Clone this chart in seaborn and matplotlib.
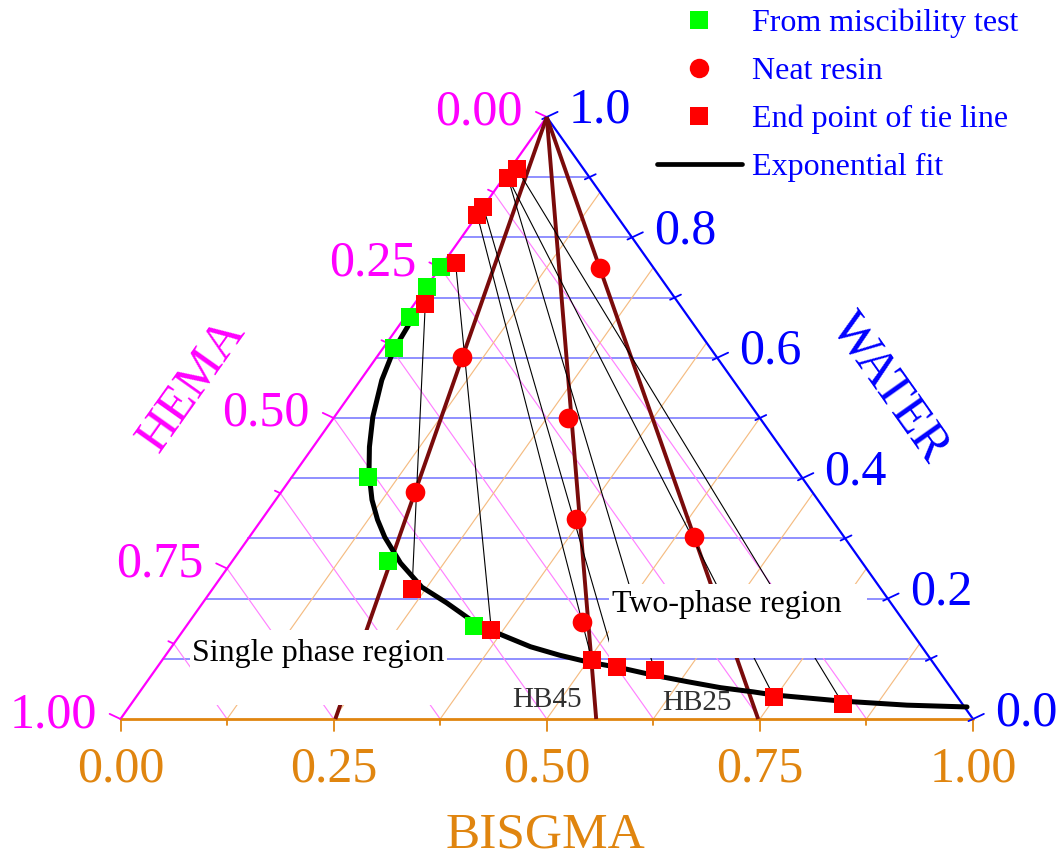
import numpy as np
import pandas as pd
import matplotlib
matplotlib.use("Agg")
import matplotlib.pyplot as plt
import matplotlib.transforms as mtransforms
import seaborn as sns
from matplotlib.lines import Line2D
from matplotlib.patches import Rectangle

sns.set_theme(style="white")
plt.rcParams['font.family'] = ['Liberation Serif', 'DejaVu Serif']

# ---- compositions (mass fractions); HEMA = 1 - BISGMA - WATER ----
misc_bisgma = [0.000, 0.000, 0.006, 0.013, 0.089, 0.183, 0.337]
misc_water = [0.751, 0.718, 0.668, 0.616, 0.402, 0.262, 0.155]

resin_bisgma = [0.188, 0.100, 0.275, 0.157, 0.368, 0.522, 0.461]
resin_water = [0.749, 0.601, 0.500, 0.377, 0.332, 0.302, 0.161]

# tie lines: water-rich end and resin-rich end
tie_top_bisgma = [0.008, 0.005, 0.005, 0.000, 0.000, 0.014, 0.013]
tie_top_water = [0.914, 0.899, 0.899, 0.851, 0.837, 0.758, 0.689]
tie_bot_bisgma = [0.835, 0.748, 0.586, 0.539, 0.504, 0.361, 0.234]
tie_bot_water = [0.025, 0.037, 0.081, 0.086, 0.098, 0.148, 0.216]

# binodal curve (exponential fit)
fit_bisgma = [0.008, 0.011, 0.014, 0.025, 0.045, 0.066, 0.087, 0.113, 0.136,
              0.159, 0.199, 0.244, 0.286, 0.328, 0.370, 0.421, 0.462, 0.500,
              0.544, 0.588, 0.634, 0.678, 0.720, 0.746, 0.829, 0.911, 0.983]
fit_water = [0.676, 0.651, 0.613, 0.563, 0.502, 0.452, 0.409, 0.364, 0.331,
             0.302, 0.259, 0.219, 0.193, 0.165, 0.143, 0.120, 0.106, 0.095,
             0.085, 0.073, 0.062, 0.052, 0.045, 0.040, 0.030, 0.023, 0.020]

# water dilution lines of the neat resins (BISGMA fraction at zero water)
dil_bisgma = [0.252, 0.558, 0.748]
dil_labels = ['HB45', 'HB25']

hema_ticks = [0.0, 0.125, 0.25, 0.375, 0.5, 0.625, 0.75, 0.875, 1.0]
bisgma_ticks = [0.0, 0.125, 0.25, 0.375, 0.5, 0.625, 0.75, 0.875, 1.0]
water_ticks = [0.0, 0.1, 0.2, 0.3, 0.4, 0.5, 0.6, 0.7, 0.8, 0.9, 1.0]
hema_labels = {0.0: '0.00', 0.25: '0.25', 0.5: '0.50', 0.75: '0.75', 1.0: '1.00'}
bisgma_labels = {0.0: '0.00', 0.25: '0.25', 0.5: '0.50', 0.75: '0.75', 1.0: '1.00'}
water_labels = {0.0: '0.0', 0.2: '0.2', 0.4: '0.4', 0.6: '0.6', 0.8: '0.8', 1.0: '1.0'}

PINK = '#ff00ff'
BLUE = '#0000ff'
ORANGE = '#e0850f'
BROWN = '#7a0b0b'


def to_xy(b, w):
    b = np.asarray(b, dtype=float)
    w = np.asarray(w, dtype=float)
    return b + w / 2.0, w


W_PX, H_PX = 1062, 857
fig = plt.figure(figsize=(W_PX / 100, H_PX / 100), dpi=100)
fig.patch.set_facecolor('white')
# triangle: base from x=120.5 to 973 px, bottom at y=719 px, apex 602 px higher
ax = fig.add_axes([120.5 / W_PX, (H_PX - 719) / H_PX, 852.5 / W_PX, 602 / H_PX])
ax.set_xlim(0, 1)
ax.set_ylim(0, 1)
ax.axis('off')

SX, SY = 852.5, 602.0  # pixels per data unit


def px_off(dx, dy):
    return mtransforms.offset_copy(ax.transData, fig=fig, x=dx, y=dy, units='dots')


# ---- grid ----
for w in water_ticks[1:-1]:
    x0, y0 = to_xy(0, w)
    x1, y1 = to_xy(1 - w, w)
    ax.plot([x0, x1], [y0, y1], color='#8f8fff', lw=1.4, zorder=1)
for h in hema_ticks[1:-1]:
    x0, y0 = to_xy(0, 1 - h)
    x1, y1 = to_xy(1 - h, 0)
    ax.plot([x0, x1], [y0, y1], color='#ff80ff', lw=0.85, zorder=1)
for b in bisgma_ticks[1:-1]:
    x0, y0 = to_xy(b, 0)
    x1, y1 = to_xy(b, 1 - b)
    ax.plot([x0, x1], [y0, y1], color='#f5bc82', lw=0.85, zorder=1)

# ---- triangle edges ----
ax.plot(*to_xy([0, 0], [0, 1]), color=PINK, lw=1.6, zorder=2, clip_on=False)
ax.plot(*to_xy([0, 1], [1, 0]), color=BLUE, lw=1.6, zorder=2, clip_on=False)
ax.plot(*to_xy([0, 1], [0, 0]), color=ORANGE, lw=2.0, zorder=2, clip_on=False)

# ---- ticks (perpendicular to edges) ----
ux, uy = 0.905, 0.426
for b in bisgma_ticks:
    L = 12 if b in bisgma_labels else 6
    x, y = to_xy(b, 0)
    ax.plot([x, x], [y, y - L / SY], color=ORANGE, lw=1.3, clip_on=False, zorder=2)
    if b in bisgma_labels:
        ax.text(x, y, bisgma_labels[b], transform=px_off(0, -63), ha='center',
                va='baseline', fontsize=36, color=ORANGE)
for h in hema_ticks:
    L = 12 if h in hema_labels else 6
    x, y = to_xy(0, 1 - h)
    ax.plot([x, x - ux * L / SX], [y, y + uy * L / SY], color=PINK, lw=1.3,
            clip_on=False, zorder=2)
    if h in hema_labels:
        ax.text(x, y, hema_labels[h], transform=px_off(-24, -8), ha='right',
                va='baseline', fontsize=36, color=PINK)
for w in water_ticks:
    L = 12 if w in water_labels else 7
    x, y = to_xy(1 - w, w)
    ax.plot([x - ux * 5 / SX, x + ux * L / SX], [y - uy * 5 / SY, y + uy * L / SY],
            color=BLUE, lw=1.3, clip_on=False, zorder=2)
    if w in water_labels:
        ax.text(x, y, water_labels[w], transform=px_off(22, -6), ha='left',
                va='baseline', fontsize=36, color=BLUE)

# ---- axis titles ----
fig.text(545 / W_PX, (H_PX - 848) / H_PX, 'BISGMA', ha='center', va='baseline',
         fontsize=37, color=ORANGE)
fig.text(192 / W_PX, (H_PX - 385) / H_PX, 'HEMA', ha='center', va='center',
         rotation=54.7, rotation_mode='anchor', fontsize=37, color=PINK)
fig.text(889 / W_PX, (H_PX - 388) / H_PX, 'WATER', ha='center', va='center',
         rotation=-54.7, rotation_mode='anchor', fontsize=37, color=BLUE)

# ---- dilution lines from the water apex ----
for b in dil_bisgma:
    xs, ys = to_xy([0, b], [1, 0])
    ax.plot(xs, ys, color=BROWN, lw=2.8, zorder=3, clip_on=False,
            solid_capstyle='butt')

# ---- tie lines ----
for bt, wt, bb, wb in zip(tie_top_bisgma, tie_top_water, tie_bot_bisgma, tie_bot_water):
    xs, ys = to_xy([bt, bb], [wt, wb])
    ax.plot(xs, ys, color='black', lw=0.8, zorder=3)

# ---- binodal fit ----
fx, fy = to_xy(fit_bisgma, fit_water)
fit_df = pd.DataFrame({'x': fx, 'y': fy})
sns.lineplot(data=fit_df, x='x', y='y', sort=False, estimator=None, color='black',
             linewidth=3.6, ax=ax, zorder=4)

# ---- region labels on white boxes ----
for (x0, y0, x1, y1) in [(609, 584, 867, 658), (190, 630, 447, 705)]:
    fig.patches.append(Rectangle((x0 / W_PX, (H_PX - y1) / H_PX), (x1 - x0) / W_PX,
                                 (y1 - y0) / H_PX, transform=fig.transFigure,
                                 facecolor='white', edgecolor='none', zorder=5))
ax.set_zorder(1)
fig.text(612 / W_PX, (H_PX - 612) / H_PX, 'Two-phase region', ha='left',
         va='baseline', fontsize=23, color='black', zorder=8)
fig.text(192 / W_PX, (H_PX - 661) / H_PX, 'Single phase region', ha='left',
         va='baseline', fontsize=23, color='black', zorder=8)
fig.text(512 / W_PX, (H_PX - 707) / H_PX, dil_labels[0], ha='left', va='baseline',
         fontsize=21, color='#303030')
fig.text(662 / W_PX, (H_PX - 710) / H_PX, dil_labels[1], ha='left', va='baseline',
         fontsize=21, color='#303030')

# ---- markers ----
mx, my = to_xy(misc_bisgma, misc_water)
sns.scatterplot(x=mx, y=my, marker='s', s=165, color='#00ff00', linewidth=0,
                ax=ax, zorder=6, legend=False, clip_on=False)
rx, ry = to_xy(resin_bisgma, resin_water)
sns.scatterplot(x=rx, y=ry, marker='o', s=200, color='#ff0000', linewidth=0,
                ax=ax, zorder=6, legend=False, clip_on=False)
ex, ey = to_xy(tie_top_bisgma + tie_bot_bisgma, tie_top_water + tie_bot_water)
sns.scatterplot(x=ex, y=ey, marker='s', s=165, color='#ff0000', linewidth=0,
                ax=ax, zorder=6, legend=False, clip_on=False)

# ---- legend ----
handles = [
    Line2D([], [], ls='none', marker='s', markersize=12.5, markerfacecolor='#00ff00',
           markeredgewidth=0),
    Line2D([], [], ls='none', marker='o', markersize=14, markerfacecolor='#ff0000',
           markeredgewidth=0),
    Line2D([], [], ls='none', marker='s', markersize=12.5, markerfacecolor='#ff0000',
           markeredgewidth=0),
    Line2D([], [], color='black', lw=3.4),
]
labels = ['From miscibility test', 'Neat resin', 'End point of tie line',
          'Exponential fit']
leg = fig.legend(handles, labels, loc='upper left',
                 bbox_to_anchor=(657 / W_PX, (H_PX - 9) / H_PX),
                 bbox_transform=fig.transFigure, frameon=False, fontsize=23,
                 labelcolor=BLUE, handlelength=2.66, handletextpad=0.3,
                 borderpad=0, borderaxespad=0, labelspacing=0.58)

fig.savefig('out.png', dpi=100, facecolor='white')
